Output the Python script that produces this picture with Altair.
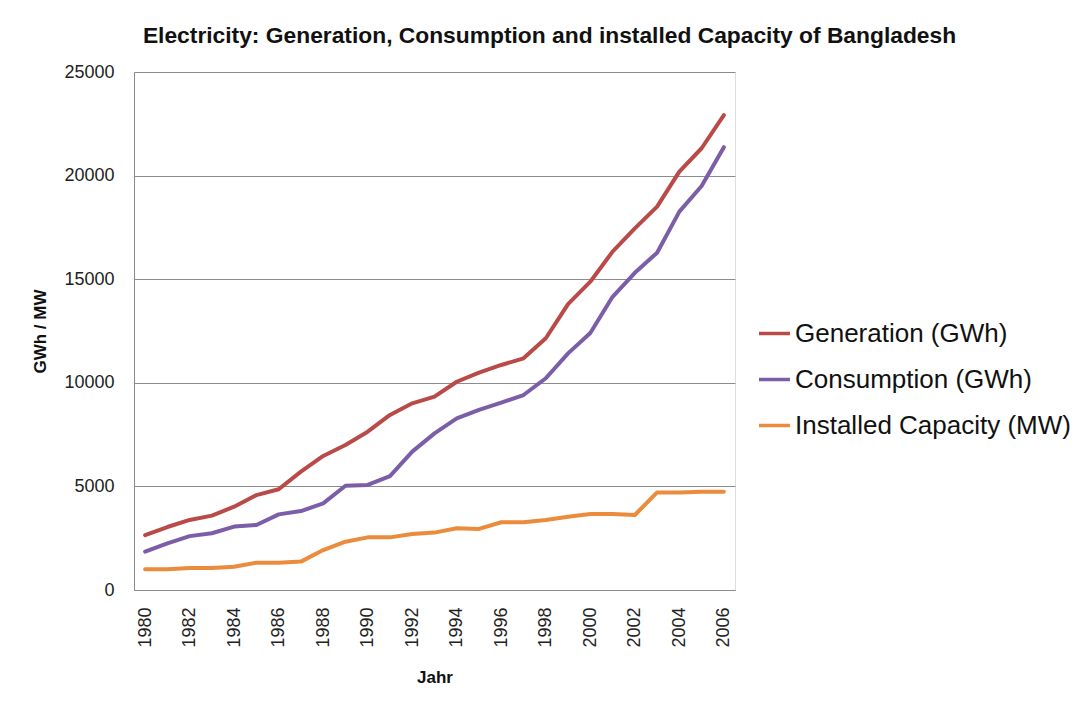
import altair as alt
import pandas as pd

years = list(range(1980, 2007))

generation = [2650, 3040, 3380, 3590, 4020, 4580, 4860, 5710, 6470, 7000,
              7640, 8450, 9010, 9330, 10050, 10490, 10860, 11180, 12150, 13800,
              14880, 16330, 17450, 18500, 20190, 21320, 22920]

consumption = [1850, 2250, 2600, 2740, 3060, 3140, 3650, 3810, 4180, 5030,
               5070, 5500, 6680, 7560, 8280, 8690, 9040, 9410, 10220, 11420,
               12400, 14150, 15310, 16280, 18260, 19500, 21370]

capacity = [1000, 1000, 1060, 1060, 1120, 1320, 1320, 1370, 1930, 2330,
            2540, 2540, 2700, 2770, 2980, 2950, 3270, 3270, 3380, 3540,
            3670, 3670, 3620, 4710, 4710, 4740, 4740]

series_names = ["Generation (GWh)", "Consumption (GWh)", "Installed Capacity (MW)"]
series_colors = ["#B94A48", "#7B5EA7", "#EB8B3C"]
year_labels = list(range(1980, 2007, 2))
y_ticks = [0, 5000, 10000, 15000, 20000, 25000]

rows = []
for name, vals in zip(series_names, [generation, consumption, capacity]):
    for yr, v in zip(years, vals):
        rows.append({"Jahr": yr, "value": v, "series": name})
df = pd.DataFrame(rows)

chart = alt.Chart(df).mark_line(strokeWidth=4, strokeJoin="round", strokeCap="round").encode(
    x=alt.X("Jahr:O",
            scale=alt.Scale(type="point", padding=0.5),
            axis=alt.Axis(values=year_labels, labelAngle=270, labelAlign="right",
                          labelBaseline="middle", labelPadding=17, ticks=False,
                          labelFont="Liberation Sans", labelFontSize=18, labelColor="#222222",
                          domainColor="#8c8c8c", title="Jahr", titleFont="Liberation Sans",
                          titleFontWeight="bold", titleFontSize=17, titleColor="#111111",
                          titlePadding=22)),
    y=alt.Y("value:Q",
            scale=alt.Scale(domain=[0, 25000], nice=False),
            axis=alt.Axis(values=y_ticks, format="d", ticks=False, labelPadding=20,
                          labelFont="Liberation Sans", labelFontSize=18, labelColor="#222222",
                          gridColor="#8c8c8c", domainColor="#8c8c8c",
                          title="GWh / MW", titleFont="Liberation Sans", titleFontWeight="bold",
                          titleFontSize=17, titleColor="#111111", titlePadding=14)),
    color=alt.Color("series:N",
                    scale=alt.Scale(domain=series_names, range=series_colors),
                    sort=series_names,
                    legend=alt.Legend(title=None, orient="none", legendX=623, legendY=244,
                                      symbolType="stroke", symbolSize=961, symbolStrokeWidth=3.5,
                                      labelFont="Liberation Sans", labelFontSize=26,
                                      labelColor="#111111", labelLimit=500, labelOffset=3,
                                      rowPadding=15, padding=0)),
).properties(
    width=601,
    height=518,
    title=alt.TitleParams(
        "Electricity: Generation, Consumption and installed Capacity of Bangladesh",
        font="Liberation Sans", fontSize=22.8, fontWeight="bold", color="#111111",
        anchor="middle", dx=115, offset=15),
    padding={"left": 126, "top": 64, "right": 340, "bottom": 100},
    autosize=alt.AutoSizeParams(type="none"),
).configure_view(
    stroke="#8c8c8c", strokeWidth=1
).configure(background="white")

chart.save("out.html", embed_options={"renderer": "svg", "actions": False})
